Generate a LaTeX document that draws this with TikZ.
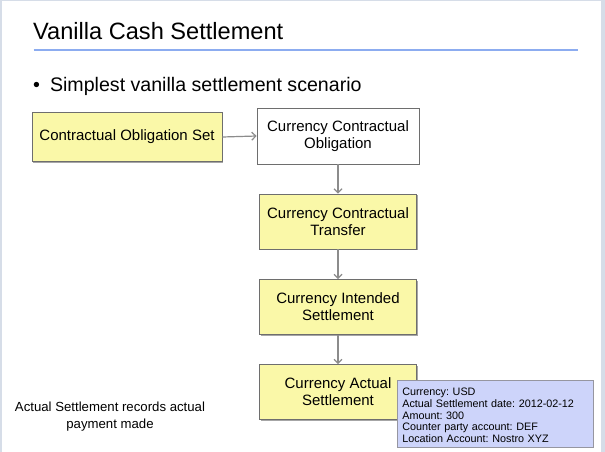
\documentclass[tikz,border=0pt]{standalone}
\usepackage{fontspec}
\setmainfont{Liberation Sans}
\usetikzlibrary{arrows.meta,shadows}
\frenchspacing
\definecolor{frame}{RGB}{214,221,232}
\definecolor{rule}{RGB}{140,172,240}
\definecolor{boxyellow}{RGB}{250,248,168}
\definecolor{boxedge}{RGB}{110,110,110}
\definecolor{notefill}{RGB}{205,212,250}
\definecolor{noteedge}{RGB}{150,150,160}
\definecolor{flow}{RGB}{140,140,140}
\begin{document}
\begin{tikzpicture}[x=1pt,y=-1pt,
  entity/.style={draw=boxedge,line width=0.8pt,fill=boxyellow,align=center,
    font=\fontsize{15}{17}\selectfont,inner sep=0pt,
    drop shadow={shadow xshift=1.2pt,shadow yshift=-1.2pt,opacity=0.35,fill=black}},
  plainentity/.style={entity,fill=white},
  flowarrow/.style={draw=flow,line width=1.2pt,-{Straight Barb[length=4pt,width=8pt]}},
  detail/.style={draw=noteedge,line width=0.6pt,fill=notefill,align=left,
    font=\fontsize{10.8}{11.7}\selectfont,inner sep=0pt,anchor=north west},
  caption/.style={align=center,font=\fontsize{13.2}{17}\selectfont}]
  % slide background and frame
  \fill[frame] (0,0) rectangle (605,452);
  \fill[white] (2,1) rectangle (601,452);
  \useasboundingbox (0,0) rectangle (605,452);

  % heading
  \node[anchor=base west,font=\fontsize{23.6}{28}\selectfont,inner sep=0pt] (title) at (33,40) {Vanilla Cash Settlement};
  \draw[rule,line width=2pt] (33.5,50.5) -- (578,50.5);
  \node[anchor=base west,font=\fontsize{19.6}{23}\selectfont,inner sep=0pt] (bullet) at (33,92) {•\hspace{10pt}Simplest vanilla settlement scenario};

  % flow boxes
  \node[entity,minimum width=190,minimum height=49] (cos) at (127,137) {Contractual Obligation Set};
  \node[plainentity,minimum width=162,minimum height=56] (cco) at (338,136) {Currency Contractual\\Obligation};
  \node[entity,minimum width=157,minimum height=55] (cct) at (338,221.5) {Currency Contractual\\Transfer};
  \node[entity,minimum width=157,minimum height=55] (cis) at (338,307) {Currency Intended\\Settlement};
  \node[entity,minimum width=157,minimum height=55] (cas) at (338,392) {Currency Actual\\Settlement};

  % connectors
  \draw[flowarrow] (cos.east) -- (cco.west);
  \draw[flowarrow] (cco.south) -- (cct.north);
  \draw[flowarrow] (cct.south) -- (cis.north);
  \draw[flowarrow] (cis.south) -- (cas.north);

  % attribute callout
  \node[detail,minimum width=196,minimum height=67,text width=196] (attrs) at (397,380)
    {\hspace*{5pt}\parbox[t]{190pt}{\vspace*{3pt}Currency: USD\\Actual Settlement date: 2012-02-12\\Amount: 300\\Counter party account: DEF\\Location Account: Nostro XYZ}};

  % side remark
  \node[caption] (remark) at (110,416.5) {Actual Settlement records actual\\payment made};
\end{tikzpicture}
\end{document}
